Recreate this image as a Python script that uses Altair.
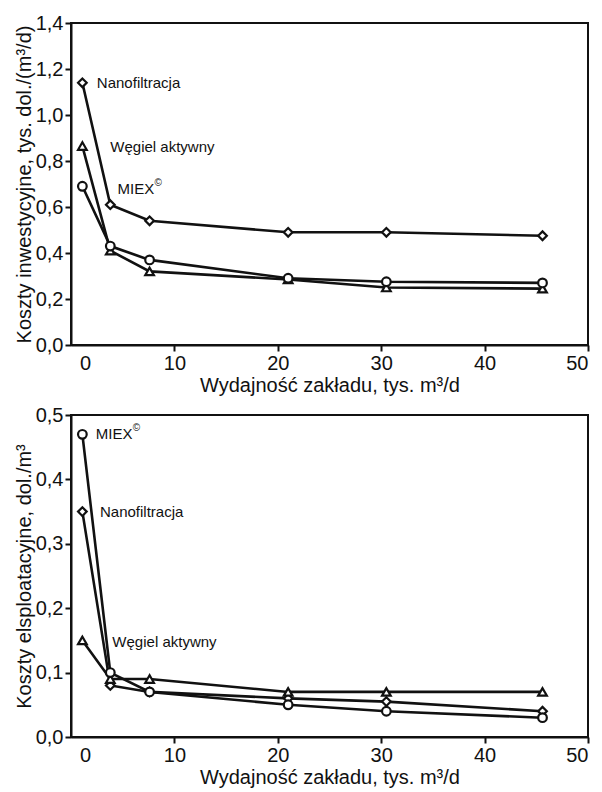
import altair as alt
import pandas as pd

# ---- data ----
capacity = [1.1, 3.8, 7.6, 21.0, 30.5, 45.6]
series = ["Nanofiltracja", "Węgiel aktywny", "MIEX"]

inv_nano = [1.14, 0.61, 0.54, 0.49, 0.49, 0.475]
inv_wegiel = [0.865, 0.41, 0.32, 0.285, 0.25, 0.245]
inv_miex = [0.69, 0.43, 0.37, 0.29, 0.275, 0.27]

op_nano = [0.35, 0.08, 0.07, 0.06, 0.055, 0.04]
op_wegiel = [0.15, 0.09, 0.09, 0.07, 0.07, 0.07]
op_miex = [0.47, 0.10, 0.07, 0.05, 0.04, 0.03]

# inline labels (series, x, y)
inv_labels_text = ["Nanofiltracja", "Węgiel aktywny", "MIEX"]
inv_labels_x = [2.5, 3.8, 4.5]
inv_labels_y = [1.14, 0.86, 0.68]
op_labels_text = ["MIEX", "Nanofiltracja", "Węgiel aktywny"]
op_labels_x = [2.4, 2.8, 4.0]
op_labels_y = [0.47, 0.35, 0.147]

x_ticks = [1.35, 10, 20, 30, 40, 50]
inv_y_ticks = [0.0, 0.2, 0.4, 0.6, 0.8, 1.0, 1.2, 1.4]
op_y_ticks = [0.0, 0.1, 0.2, 0.3, 0.4, 0.5]

FONT = "Liberation Sans"
INK = "#111111"


def frame(vals):
    rows = []
    for s, v in zip(series, vals):
        for x, y in zip(capacity, v):
            rows.append({"series": s, "x": x, "y": y})
    return pd.DataFrame(rows)


inv_df = frame([inv_nano, inv_wegiel, inv_miex])
op_df = frame([op_nano, op_wegiel, op_miex])


def panel(df, ytitle, ydomain, yticks, lab_t, lab_x, lab_y):
    xax = alt.Axis(
        values=x_ticks,
        labelExpr="datum.value < 5 ? '0' : datum.label",
        tickOpacity={"condition": {"test": "datum.value < 5", "value": 0}, "value": 1},
        title="Wydajność zakładu, tys. m³/d",
        titlePadding=2,
        grid=False,
    )
    yax = alt.Axis(values=yticks, format=".1f", title=ytitle, grid=False,
                   titlePadding=1)
    base = alt.Chart(df)
    xenc = alt.X("x:Q", scale=alt.Scale(domain=[0, 50], nice=False), axis=xax)
    yenc = alt.Y("y:Q", scale=alt.Scale(domain=ydomain, nice=False), axis=yax)
    lines = base.mark_line(color=INK, strokeWidth=2.6).encode(
        x=xenc, y=yenc, detail="series:N"
    )
    pts = base.mark_point(
        filled=True, fill="white", stroke=INK, strokeWidth=2.2, size=75, opacity=1
    ).encode(
        x="x:Q",
        y="y:Q",
        shape=alt.Shape(
            "series:N",
            scale=alt.Scale(
                domain=series, range=["diamond", "triangle-up", "circle"]
            ),
            legend=None,
        ),
    )
    ldf = pd.DataFrame({"t": lab_t, "x": lab_x, "y": lab_y})
    ldf["sup"] = ldf["t"].apply(lambda t: "©" if t == "MIEX" else "")
    labels = alt.Chart(ldf).mark_text(
        align="left", baseline="middle", font=FONT, fontSize=15, color=INK
    ).encode(x="x:Q", y="y:Q", text="t:N")
    sup = alt.Chart(ldf).mark_text(
        align="left", baseline="middle", font=FONT, fontSize=10, color=INK,
        dx=37, dy=-6
    ).encode(x="x:Q", y="y:Q", text="sup:N")
    return alt.layer(lines, pts, labels, sup).properties(width=517, height=322)


top = panel(inv_df, "Koszty inwestycyjne, tys. dol./(m³/d)", [0, 1.4],
            inv_y_ticks, inv_labels_text, inv_labels_x, inv_labels_y)
bottom = panel(op_df, "Koszty elsploatacyjne, dol./m³", [0, 0.5],
               op_y_ticks, op_labels_text, op_labels_x, op_labels_y)

chart = alt.vconcat(top, bottom, spacing=8).properties(
    padding={"left": 5, "top": 4, "right": 0, "bottom": 0}
).configure_view(
    stroke=INK, strokeWidth=2
).configure_axis(
    domainColor=INK, domainWidth=2, tickColor=INK, tickWidth=2, tickSize=6,
    labelFont=FONT, labelFontSize=20, labelColor=INK, labelPadding=2,
    titleFont=FONT, titleFontSize=20, titleColor=INK, titleFontWeight="normal",
)

chart.save("out.html", embed_options={"renderer": "svg", "actions": False,
                                      "formatLocale": {"decimal": ",", "thousands": " ",
                                                       "grouping": [3], "currency": ["", ""]}})
